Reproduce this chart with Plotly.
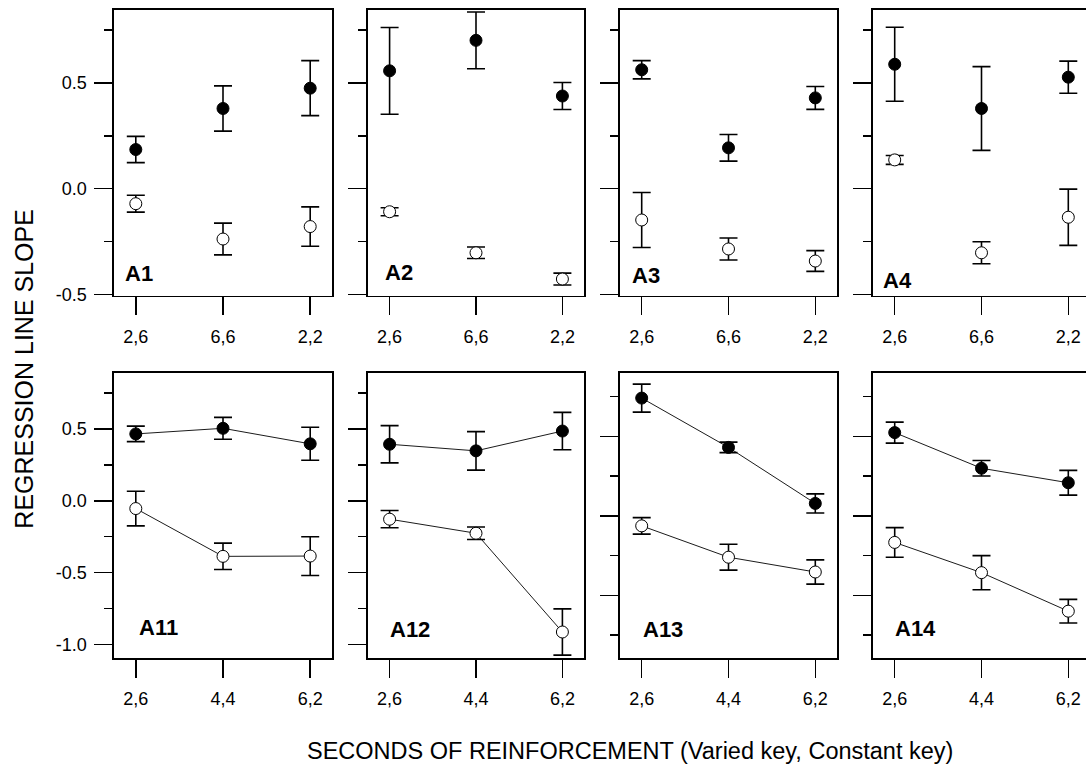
import plotly.graph_objects as go

# ---------------- data ----------------
top_categories = ["2,6", "6,6", "2,2"]
bottom_categories = ["2,6", "4,4", "6,2"]

A1_filled = [0.185, 0.379, 0.475]
A1_filled_err = [0.062, 0.107, 0.130]
A1_open = [-0.071, -0.238, -0.179]
A1_open_err = [0.040, 0.075, 0.093]

A2_filled = [0.557, 0.701, 0.438]
A2_filled_err = [0.205, 0.134, 0.064]
A2_open = [-0.109, -0.303, -0.427]
A2_open_err = [0.019, 0.027, 0.028]

A3_filled = [0.562, 0.193, 0.429]
A3_filled_err = [0.043, 0.063, 0.054]
A3_open = [-0.148, -0.285, -0.342]
A3_open_err = [0.130, 0.052, 0.049]

A4_filled = [0.588, 0.379, 0.527]
A4_filled_err = [0.175, 0.198, 0.076]
A4_open = [0.136, -0.303, -0.135]
A4_open_err = [0.021, 0.052, 0.133]

A11_filled = [0.466, 0.505, 0.397]
A11_filled_err = [0.054, 0.076, 0.115]
A11_open = [-0.054, -0.387, -0.385]
A11_open_err = [0.121, 0.092, 0.135]

A12_filled = [0.394, 0.348, 0.486]
A12_filled_err = [0.130, 0.134, 0.130]
A12_open = [-0.128, -0.226, -0.914]
A12_open_err = [0.060, 0.044, 0.161]

A13_filled = [0.740, 0.430, 0.078]
A13_filled_err = [0.088, 0.033, 0.060]
A13_open = [-0.063, -0.260, -0.353]
A13_open_err = [0.052, 0.081, 0.076]

A14_filled = [0.523, 0.299, 0.208]
A14_filled_err = [0.066, 0.049, 0.078]
A14_open = [-0.167, -0.357, -0.599]
A14_open_err = [0.093, 0.107, 0.074]

top_y_ticks = [-0.5, 0.0, 0.5]
top_y_ticktext = ["-0.5", "0.0", "0.5"]
top_y_minor = [-0.25, 0.25, 0.75]
bottom_y_ticks = [-1.0, -0.5, 0.0, 0.5]
bottom_y_ticktext = ["-1.0", "-0.5", "0.0", "0.5"]
bottom_y_minor = [-0.75, -0.25, 0.25, 0.75]
right_y_ticks = [-0.5, 0.0, 0.5]
right_y_minor = [-0.75, -0.25, 0.25, 0.75]

panels = [
    ("A1", top_categories, A1_filled, A1_filled_err, A1_open, A1_open_err),
    ("A2", top_categories, A2_filled, A2_filled_err, A2_open, A2_open_err),
    ("A3", top_categories, A3_filled, A3_filled_err, A3_open, A3_open_err),
    ("A4", top_categories, A4_filled, A4_filled_err, A4_open, A4_open_err),
    ("A11", bottom_categories, A11_filled, A11_filled_err, A11_open, A11_open_err),
    ("A12", bottom_categories, A12_filled, A12_filled_err, A12_open, A12_open_err),
    ("A13", bottom_categories, A13_filled, A13_filled_err, A13_open, A13_open_err),
    ("A14", bottom_categories, A14_filled, A14_filled_err, A14_open, A14_open_err),
]

# ---------------- layout geometry ----------------
W, H = 1086, 775
FONT = "Liberation Sans, Arial, Helvetica, sans-serif"
cols_px = [(114, 332), (368, 584), (620, 837), (873, 1090)]
rows_px = [(10, 299), (377, 666)]
label_px = [(125, 276), (385, 275), (632, 277.5), (883, 282.5),
            (139, 633.5), (390, 636), (643, 636), (895, 635)]


def fx(sx):
    return sx / W


def fy(sy):
    return 1 - sy / H


fig = go.Figure()
layout = dict(
    width=W, height=H,
    margin=dict(l=0, r=0, t=0, b=0),
    paper_bgcolor="white", plot_bgcolor="white",
    showlegend=False, hovermode=False,
    font=dict(family=FONT, color="black"),
)
annotations = []

for i, (name, cats, fv, fe, ov, oe) in enumerate(panels):
    r, c = divmod(i, 4)
    xa = "x" if i == 0 else f"x{i+1}"
    ya = "y" if i == 0 else f"y{i+1}"
    x0, x1 = cols_px[c]
    y0, y1 = rows_px[r]
    px_per_unit = (x1 - x0) / 2.5
    xend = min(x1, W)
    xr = [-0.25, -0.25 + (xend - x0) / px_per_unit]
    line_mode = "lines+markers" if r == 1 else "markers"

    for vals, errs, fill in ((ov, oe, "white"), (fv, fe, "black")):
        fig.add_trace(go.Scatter(
            x=cats, y=vals, mode=line_mode, xaxis=xa, yaxis=ya,
            line=dict(color="black", width=0.9),
            marker=dict(symbol="circle", size=12, color=fill,
                        line=dict(color="black", width=1)),
            error_y=dict(type="data", array=errs, visible=True,
                         color="black", thickness=1.6, width=9),
            cliponaxis=False,
        ))

    if r == 0:
        yrange = [-0.505, 0.845]
        ytv, ytt, ymin = top_y_ticks, top_y_ticktext, top_y_minor
    elif c < 2:
        yrange = [-1.097, 0.893]
        ytv, ytt, ymin = bottom_y_ticks, bottom_y_ticktext, bottom_y_minor
    else:
        yrange = [-0.895, 0.9]
        ytv, ytt, ymin = right_y_ticks, [str(v) for v in right_y_ticks], right_y_minor

    xkey = "xaxis" if i == 0 else f"xaxis{i+1}"
    ykey = "yaxis" if i == 0 else f"yaxis{i+1}"
    layout[xkey] = dict(
        domain=[fx(x0), fx(xend)], anchor=ya, type="category",
        categoryorder="array", categoryarray=cats, range=xr,
        showgrid=False, zeroline=False,
        showline=True, linecolor="black", linewidth=1.6, mirror=True,
        ticks="outside", ticklen=18, tickwidth=1.5, tickcolor="black",
        tickfont=dict(size=18, family=FONT, color="black"),
        ticklabelstandoff=6,
    )
    layout[ykey] = dict(
        domain=[fy(y1), fy(y0)], anchor=xa, range=yrange,
        showgrid=False, zeroline=False,
        showline=True, linecolor="black", linewidth=1.6, mirror=(c < 3),
        tickmode="array", tickvals=ytv, ticktext=ytt,
        showticklabels=(c == 0),
        ticks="outside", ticklen=18, tickwidth=1.5, tickcolor="black",
        tickfont=dict(size=18, family=FONT, color="black"),
        ticklabelstandoff=4,
        minor=dict(tickmode="array", tickvals=ymin, ticks="outside",
                   ticklen=8, tickwidth=1.5, tickcolor="black", showgrid=False),
    )
    lx, ly = label_px[i]
    annotations.append(dict(
        text=f"<b>{name}</b>", xref=f"{xa} domain", yref=f"{ya} domain",
        x=(lx - x0 - 2) / (xend - x0),
        y=(y1 - ly - 1) / (y1 - y0),
        xanchor="left", yanchor="middle", showarrow=False,
        font=dict(size=22, family=FONT, color="black"),
    ))

annotations.append(dict(
    text="REGRESSION LINE SLOPE", xref="paper", yref="paper",
    x=fx(24), y=fy(373), xanchor="center", yanchor="middle",
    textangle=-90, showarrow=False, font=dict(size=25, family=FONT, color="black"),
))
annotations.append(dict(
    text="SECONDS OF REINFORCEMENT (Varied key, Constant key)",
    xref="paper", yref="paper", x=fx(629.5), y=fy(760),
    xanchor="center", yanchor="middle", showarrow=False,
    font=dict(size=23.5, family=FONT, color="black"),
))
layout["annotations"] = annotations

fig.update_layout(**layout)
# remove the default page margin so the 1086x775 figure fills the window exactly
fig.write_html(
    "out.html",
    config={"displayModeBar": False, "staticPlot": True},
    post_script="document.body.style.margin='0px';"
                "document.documentElement.style.overflow='hidden';",
)
